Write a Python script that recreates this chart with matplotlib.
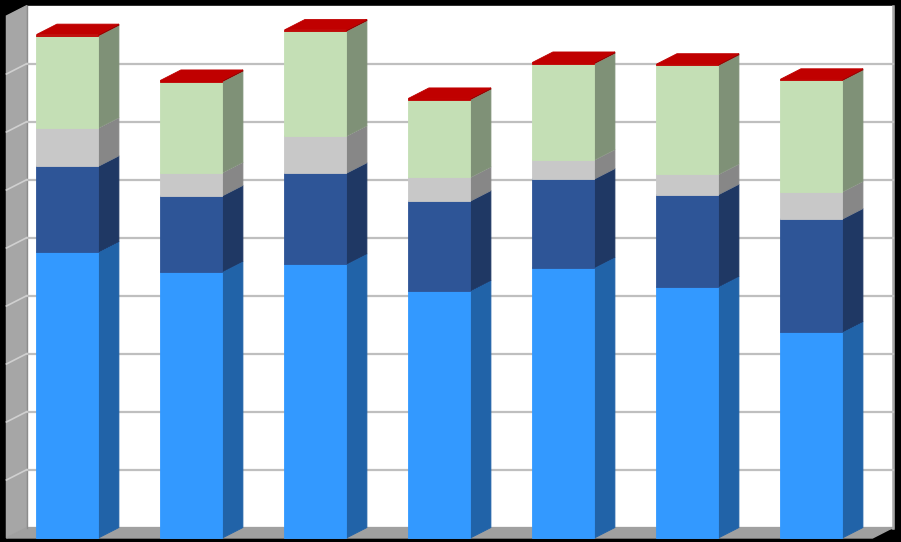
import matplotlib
matplotlib.use("Agg")
import matplotlib.pyplot as plt

# --------------------DATA-----------------------------------------------
categories = ["1", "2", "3", "4", "5", "6", "7"]
light_blue = [4.93, 4.59, 4.72, 4.26, 4.66, 4.33, 3.55]
dark_blue = [1.48, 1.31, 1.57, 1.55, 1.53, 1.59, 1.95]
grey = [0.66, 0.40, 0.64, 0.41, 0.33, 0.35, 0.47]
green = [1.59, 1.57, 1.81, 1.34, 1.66, 1.88, 1.92]
red = [0.02, 0.02, 0.02, 0.02, 0.02, 0.02, 0.02]

series = [light_blue, dark_blue, grey, green, red]
front_colors = ["#3399FF", "#2E5597", "#C8C8C8", "#C4DFB5", "#C00000"]
side_colors = ["#2163A8", "#1F3864", "#878787", "#7F9177", "#8A0000"]
top_colors = ["#3399FF", "#2E5597", "#C8C8C8", "#C4DFB5", "#C00000"]

y_max = 9
# -----------------------------------------------------------------------

fig = plt.figure(figsize=(9.01, 5.42), dpi=100, facecolor="black")
ax = fig.add_axes([0, 0, 1, 1])
ax.set_facecolor("black")
ax.set_xlim(-0.544, 6.722)
ax.set_ylim(-0.069, 9.276)
ax.axis("off")

dx = 0.165   # depth offset along x
dy = 0.18    # depth offset along y
wall_l = -0.327
wall_r = 6.657
bar_w = 0.5

# back wall
ax.fill([wall_l, wall_r, wall_r, wall_l], [dy, dy, y_max + dy, y_max + dy],
        color="white", zorder=1)
ax.plot([wall_r, wall_r], [dy, y_max + dy], color="#A6A6A6", lw=1.8, zorder=2)
# left wall
ax.fill([wall_l - dx, wall_l, wall_l, wall_l - dx],
        [0, dy, y_max + dy, y_max], color="#A6A6A6", zorder=1)
ax.plot([wall_l, wall_l], [dy, y_max + dy], color="#8C8C8C", lw=1, zorder=2)
# floor
ax.fill([wall_l - dx, wall_r - dx, wall_r, wall_l],
        [0, 0, dy, dy], color="#A0A0A0", zorder=1)

# gridlines
for k in range(1, y_max):
    ax.plot([wall_l, wall_r], [k + dy, k + dy], color="#BFBFBF", lw=1.6, zorder=2)
    ax.plot([wall_l - dx, wall_l], [k, k + dy], color="#D0D0D0", lw=1.2, zorder=2)

# stacked 3d bars
for i in range(len(categories)):
    x0 = i - bar_w / 2
    x1 = i + bar_w / 2
    base = 0.0
    for s, vals in enumerate(series):
        top = base + vals[i]
        z = 3 + s
        ax.fill([x1, x1 + dx, x1 + dx, x1], [base, base + dy, top + dy, top],
                fc=side_colors[s], ec=side_colors[s], lw=0.6, zorder=z)
        ax.fill([x0, x1, x1 + dx, x0 + dx], [top, top, top + dy, top + dy],
                fc=top_colors[s], ec=top_colors[s], lw=0.6, zorder=z)
        ax.fill([x0, x1, x1, x0], [base, base, top, top],
                fc=front_colors[s], ec=front_colors[s], lw=0.6, zorder=z + 0.5)
        base = top

plt.savefig("out.png", dpi=100, facecolor="black")
